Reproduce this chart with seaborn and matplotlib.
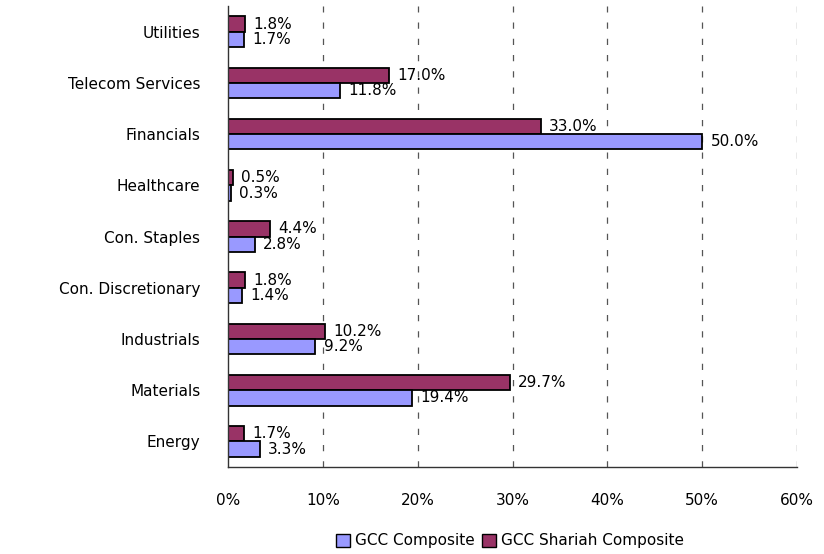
import pandas as pd
import matplotlib
matplotlib.use("Agg")
import matplotlib.pyplot as plt
import seaborn as sns
from matplotlib.ticker import FuncFormatter, FixedLocator
from matplotlib.patches import Patch

sectors = ["Utilities", "Telecom Services", "Financials", "Healthcare", "Con. Staples",
           "Con. Discretionary", "Industrials", "Materials", "Energy"]
composite = [1.7, 11.8, 50.0, 0.3, 2.8, 1.4, 9.2, 19.4, 3.3]
shariah = [1.8, 17.0, 33.0, 0.5, 4.4, 1.8, 10.2, 29.7, 1.7]
series = ["GCC Composite", "GCC Shariah Composite"]
colors = {"GCC Composite": "#9999FF", "GCC Shariah Composite": "#993366"}

df = pd.DataFrame({
    "Sector": sectors * 2,
    "Weight": composite + shariah,
    "Index": [series[0]] * len(sectors) + [series[1]] * len(sectors),
})

sns.set_style("white")
plt.rcParams["font.family"] = ["DejaVu Sans"]
plt.rcParams["font.size"] = 11
plt.rcParams["text.color"] = "black"
plt.rcParams["xtick.color"] = "black"
plt.rcParams["ytick.color"] = "black"
plt.rcParams["xtick.labelcolor"] = "black"
plt.rcParams["ytick.labelcolor"] = "black"

fig, ax = plt.subplots(figsize=(8.24, 5.54), dpi=100)
fig.subplots_adjust(left=0.277, right=0.967, top=0.989, bottom=0.157)

sns.barplot(data=df, y="Sector", x="Weight", hue="Index", order=sectors,
            hue_order=[series[1], series[0]], palette=colors, width=0.6,
            saturation=1, edgecolor="black", linewidth=1.3, orient="h",
            ax=ax, legend=False)

for cont in ax.containers:
    ax.bar_label(cont, labels=[f"{b.get_width():.1f}%" for b in cont],
                 padding=6, fontsize=11, color="black")

ax.set_xlim(0, 60)
ax.set_ylim(len(sectors) - 0.5, -0.5)
ax.set_xticks(range(0, 61, 10))
ax.xaxis.set_major_formatter(FuncFormatter(lambda v, p: f"{v:.0f}%"))
ax.set_xlabel("")
ax.set_ylabel("")
ax.tick_params(labelsize=11)

for xv in range(10, 61, 10):
    ax.axvline(xv, color="#555555", linestyle=(0, (5, 8)), linewidth=0.9, zorder=0)

ax.yaxis.set_minor_locator(FixedLocator([i - 0.5 for i in range(len(sectors) + 1)]))
ax.tick_params(axis="y", which="major", length=0, pad=20)
ax.tick_params(axis="y", which="minor", length=6, color="#333333", direction="out")
ax.tick_params(axis="x", which="major", length=5, color="#333333", direction="out", pad=14)

for s in ["top", "right"]:
    ax.spines[s].set_visible(False)
for s in ["left", "bottom"]:
    ax.spines[s].set_color("#333333")
    ax.spines[s].set_linewidth(1)

handles = [Patch(facecolor=colors[s], edgecolor="black", label=s) for s in series]
fig.legend(handles=handles, loc="center", bbox_to_anchor=(510 / 824, 1 - 541 / 554),
           ncol=2, frameon=False, handlelength=0.9, handleheight=0.9,
           handletextpad=0.3, columnspacing=0.5, fontsize=11)

fig.savefig("out.png", dpi=100)
